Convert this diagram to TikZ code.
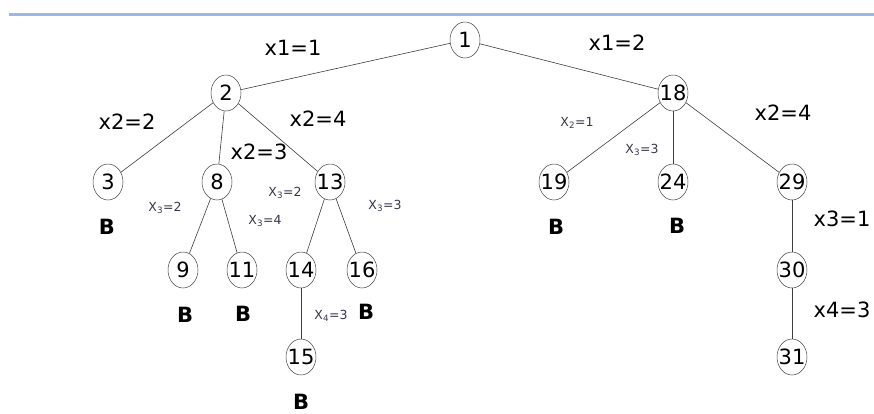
\documentclass[tikz,border=0pt]{standalone}
\usepackage{fontspec}
\setmainfont{DejaVu Sans}
\usetikzlibrary{shapes.geometric}
\definecolor{rulerblue}{RGB}{155,184,224}
\definecolor{edgegray}{RGB}{60,60,60}
\definecolor{smallgray}{RGB}{55,55,75}

\begin{document}
\begin{tikzpicture}[
    x=1pt, y=-1pt,
    vertex/.style={
        ellipse,
        draw=black!75,
        line width=0.5pt,
        minimum width=30pt,
        minimum height=36pt,
        inner sep=0pt,
        font=\fontsize{21}{21}\selectfont
    },
    branch/.style={
        draw=edgegray,
        line width=0.6pt
    },
    biglab/.style={
        inner sep=0pt,
        font=\fontsize{21}{21}\selectfont
    },
    smalllab/.style={
        inner sep=0pt,
        text=smallgray,
        font=\fontsize{12.5}{12.5}\selectfont
    },
    bound/.style={
        inner sep=0pt,
        font=\bfseries\fontsize{21}{21}\selectfont
    }
]

\useasboundingbox (0,0) rectangle (874,413);

% top rule
\draw[rulerblue, line width=3pt] (9,14.5) -- (874,14.5);

% ------------------------------------------------------------
% Vertices
% ------------------------------------------------------------
\node[vertex] (n1)  at (465,40)  {\makebox[0pt]{1}};
\node[vertex] (n2)  at (226,93)  {\makebox[0pt]{2}};
\node[vertex] (n18) at (673,93)  {\makebox[0pt]{18}};

\node[vertex] (n3)  at (108,182) {\makebox[0pt]{3}};
\node[vertex] (n8)  at (217,182) {\makebox[0pt]{8}};
\node[vertex] (n13) at (330,182) {\makebox[0pt]{13}};
\node[vertex] (n19) at (554,182) {\makebox[0pt]{19}};
\node[vertex] (n24) at (673,182) {\makebox[0pt]{24}};
\node[vertex] (n29) at (792,182) {\makebox[0pt]{29}};

\node[vertex] (n9)  at (183,270) {\makebox[0pt]{9}};
\node[vertex] (n11) at (242,270) {\makebox[0pt]{11}};
\node[vertex] (n14) at (301,270) {\makebox[0pt]{14}};
\node[vertex] (n16) at (362,270) {\makebox[0pt]{16}};
\node[vertex] (n30) at (792,270) {\makebox[0pt]{30}};

\node[vertex] (n15) at (301,357) {\makebox[0pt]{15}};
\node[vertex] (n31) at (792,357) {\makebox[0pt]{31}};

% ------------------------------------------------------------
% Branches
% ------------------------------------------------------------
\draw[branch] (n1) -- (n2);
\draw[branch] (n1) -- (n18);
\draw[branch] (n2) -- (n3);
\draw[branch] (n2) -- (n8);
\draw[branch] (n2) -- (n13);
\draw[branch] (n8) -- (n9);
\draw[branch] (n8) -- (n11);
\draw[branch] (n13) -- (n14);
\draw[branch] (n13) -- (n16);
\draw[branch] (n14) -- (n15);
\draw[branch] (n18) -- (n19);
\draw[branch] (n18) -- (n24);
\draw[branch] (n18) -- (n29);
\draw[branch] (n29) -- (n30);
\draw[branch] (n30) -- (n31);

% ------------------------------------------------------------
% Branch labels
% ------------------------------------------------------------
\node[biglab] (l1a) at (293,48)  {x1=1};
\node[biglab] (l1b) at (617,43)  {x1=2};
\node[biglab] (l2a) at (127,122) {x2=2};
\node[biglab] (l2b) at (259,152) {x2=3};
\node[biglab] (l2c) at (318,119) {x2=4};
\node[biglab] (l2d) at (783,113) {x2=4};
\node[biglab] (l3a) at (842,219) {x3=1};
\node[biglab] (l4a) at (842,310) {x4=3};

\node[smalllab] (s3a) at (165,208) {X\textsubscript{3}=2};
\node[smalllab] (s3b) at (265,221) {X\textsubscript{3}=4};
\node[smalllab] (s3c) at (285,193) {X\textsubscript{3}=2};
\node[smalllab] (s3d) at (385,206) {X\textsubscript{3}=3};
\node[smalllab] (s4a) at (331,316) {X\textsubscript{4}=3};
\node[smalllab] (s2a) at (577,123) {X\textsubscript{2}=1};
\node[smalllab] (s3e) at (642,150) {X\textsubscript{3}=3};

% bounded leaves
\node[bound] (b3)  at (107,227) {B};
\node[bound] (b9)  at (185,315) {B};
\node[bound] (b11) at (243,314) {B};
\node[bound] (b16) at (366,312) {B};
\node[bound] (b15) at (301,402) {B};
\node[bound] (b19) at (556,227) {B};
\node[bound] (b24) at (677,226) {B};

\end{tikzpicture}
\end{document}
